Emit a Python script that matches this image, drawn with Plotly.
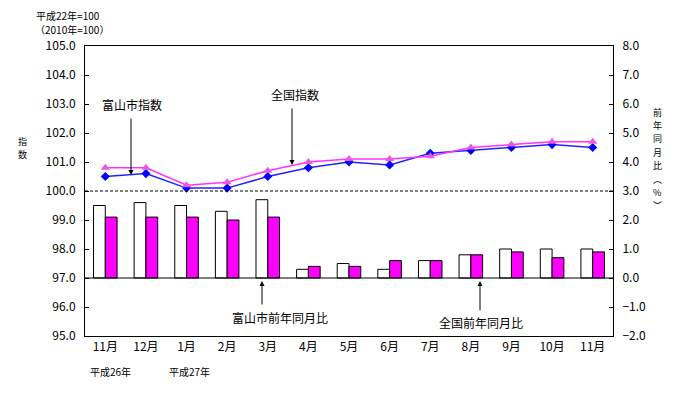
import plotly.graph_objects as go

months = ["11月", "12月", "1月", "2月", "3月", "4月", "5月", "6月", "7月", "8月", "9月", "10月", "11月"]
toyama_index = [100.5, 100.6, 100.1, 100.1, 100.5, 100.8, 101.0, 100.9, 101.3, 101.4, 101.5, 101.6, 101.5]
national_index = [100.8, 100.8, 100.2, 100.3, 100.7, 101.0, 101.1, 101.1, 101.2, 101.5, 101.6, 101.7, 101.7]
toyama_yoy = [2.5, 2.6, 2.5, 2.3, 2.7, 0.3, 0.5, 0.3, 0.6, 0.8, 1.0, 1.0, 1.0]
national_yoy = [2.1, 2.1, 2.1, 2.0, 2.1, 0.4, 0.4, 0.6, 0.6, 0.8, 0.9, 0.7, 0.9]
left_title = ["指", "数"]
right_title = ["前", "年", "同", "月", "比", "︵", "%", "︶"]

x = list(range(len(months)))
FONT = "MS Gothic, Noto Sans CJK JP, sans-serif"

fig = go.Figure()
fig.add_trace(go.Bar(x=x, y=toyama_yoy, yaxis="y2", name="富山市前年同月比",
                     marker=dict(color="white", line=dict(color="black", width=1))))
fig.add_trace(go.Bar(x=x, y=national_yoy, yaxis="y2", name="全国前年同月比",
                     marker=dict(color="#FF00FF", line=dict(color="black", width=1))))
fig.add_trace(go.Scatter(x=x, y=toyama_index, mode="lines+markers", name="富山市指数",
                         line=dict(color="#2222FF", width=1.5),
                         marker=dict(symbol="diamond", size=7, color="#0000FF")))
fig.add_trace(go.Scatter(x=x, y=national_index, mode="lines+markers", name="全国指数",
                         line=dict(color="#FF33FF", width=1.5),
                         marker=dict(symbol="triangle-up", size=8, color="#EE55DD")))

# page body has an 8px margin
OFF = 8
W, H = 677 - OFF, 393 - OFF
L, R, T, B = 85, 613, 46, 336   # target plot area in window pixels
pw, ph = R - L, B - T

def px(xp):
    return (xp - L) / pw

def py(yp):
    return (B - yp) / ph

annotations = []
def arrow(xh, yh, yt):
    annotations.append(dict(x=px(xh), y=py(yh), xref="paper", yref="paper", text="",
                            showarrow=True, ax=0, ay=yt - yh, arrowhead=2, arrowsize=1,
                            arrowwidth=1, arrowcolor="black", standoff=0))

def label(xc, yc, txt, size=12):
    annotations.append(dict(x=px(xc), y=py(yc), xref="paper", yref="paper", text=txt,
                            showarrow=False, font=dict(size=size, color="black", family=FONT),
                            xanchor="center", yanchor="middle", borderpad=0))

arrow(131, 175, 117)
arrow(292, 165, 107)
arrow(262, 281, 306)
arrow(480, 281, 312)
label(132, 105, "富山市指数")
label(295, 94, "全国指数")
label(280, 317, "富山市前年同月比")
label(481, 322, "全国前年同月比")
label(68, 15.5, "平成22年=100", 10)
label(72, 29.5, "（2010年=100）", 10)
label(110, 371, "平成26年", 10)
label(189, 371, "平成27年", 10)
STEP = 13.4
for i, ch in enumerate(left_title):
    label(22, 148 + (i - 0.5) * STEP, ch, 9)
for i, ch in enumerate(right_title):
    label(657, 159 + (i - 3.5) * STEP, ch, 9)

fig.update_layout(
    width=W, height=H,
    margin=dict(l=L - OFF, r=W - (R - OFF), t=T - OFF, b=H - (B - OFF)),
    paper_bgcolor="white", plot_bgcolor="white",
    showlegend=False,
    barmode="group", bargap=0.42, bargroupgap=0,
    font=dict(family=FONT, size=12, color="black"),
    xaxis=dict(tickmode="array", tickvals=x, ticktext=months, range=[-0.5, len(months) - 0.5],
               showline=True, linecolor="black", linewidth=1, mirror=True,
               ticks="", showgrid=False, zeroline=False, tickfont=dict(size=12)),
    yaxis=dict(range=[95, 105], dtick=1, tickformat=".1f", showline=True, linecolor="black",
               linewidth=1, ticks="inside", ticklen=4, tickcolor="black", showgrid=False,
               zeroline=False, ticklabelstandoff=6, tickfont=dict(size=12)),
    yaxis2=dict(range=[-2, 8], dtick=1, tickformat=".1f", overlaying="y", side="right",
                showline=True, linecolor="black", linewidth=1, ticks="inside", ticklen=4,
                tickcolor="black", showgrid=False, zeroline=False, ticklabelstandoff=6,
                tickfont=dict(size=12)),
    annotations=annotations,
    shapes=[
        dict(type="line", xref="paper", x0=0, x1=1, yref="y", y0=100, y1=100,
             line=dict(color="black", width=1, dash="3px,2px")),
        dict(type="line", xref="paper", x0=0, x1=1, yref="y2", y0=0, y1=0,
             line=dict(color="black", width=1)),
    ],
)

fig.write_html("out.html")
